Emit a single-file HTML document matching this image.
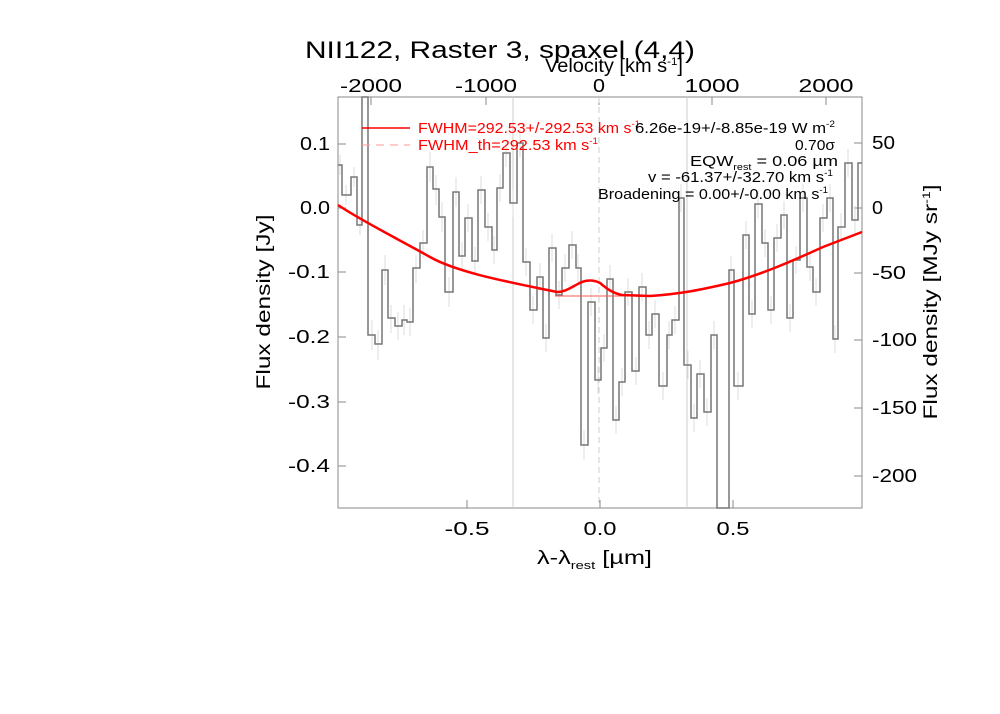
<!DOCTYPE html>
<html><head><meta charset="utf-8"><style>
body{margin:0;background:#fff;}
svg{display:block;font-family:"Liberation Sans",sans-serif;}
</style></head><body>
<svg width="1000" height="714" viewBox="0 0 1000 714" xmlns="http://www.w3.org/2000/svg">
<rect width="1000" height="714" fill="#fff"/>
<text x="305" y="58" font-size="24" fill="#000" textLength="390" lengthAdjust="spacingAndGlyphs">NII122, Raster 3, spaxel (4,4)</text>
<text x="545" y="72" font-size="19" fill="#000" textLength="138" lengthAdjust="spacingAndGlyphs">Velocity [km s<tspan font-size="11" dy="-7">-1</tspan><tspan dy="7">]</tspan></text>
<g font-size="18" fill="#000" text-anchor="middle" lengthAdjust="spacingAndGlyphs">
<text x="371" y="92" textLength="62" lengthAdjust="spacingAndGlyphs">-2000</text><text x="486" y="92" textLength="62" lengthAdjust="spacingAndGlyphs">-1000</text><text x="599" y="92" textLength="12" lengthAdjust="spacingAndGlyphs">0</text><text x="712" y="92" textLength="55" lengthAdjust="spacingAndGlyphs">1000</text><text x="826" y="92" textLength="55" lengthAdjust="spacingAndGlyphs">2000</text>
<text x="467" y="535" textLength="45" lengthAdjust="spacingAndGlyphs">-0.5</text><text x="600" y="535" textLength="33" lengthAdjust="spacingAndGlyphs">0.0</text><text x="733" y="535" textLength="33" lengthAdjust="spacingAndGlyphs">0.5</text>
</g>
<g font-size="18" fill="#000" text-anchor="end">
<text x="330" y="150" textLength="30" lengthAdjust="spacingAndGlyphs">0.1</text><text x="330" y="214" textLength="30" lengthAdjust="spacingAndGlyphs">0.0</text><text x="330" y="278" textLength="42" lengthAdjust="spacingAndGlyphs">-0.1</text><text x="330" y="343" textLength="42" lengthAdjust="spacingAndGlyphs">-0.2</text><text x="330" y="408" textLength="42" lengthAdjust="spacingAndGlyphs">-0.3</text><text x="330" y="472" textLength="42" lengthAdjust="spacingAndGlyphs">-0.4</text>
</g>
<g font-size="18" fill="#000" text-anchor="start">
<text x="872" y="149" textLength="23" lengthAdjust="spacingAndGlyphs">50</text><text x="872" y="214" textLength="11" lengthAdjust="spacingAndGlyphs">0</text><text x="872" y="279" textLength="34" lengthAdjust="spacingAndGlyphs">-50</text><text x="872" y="346" textLength="45" lengthAdjust="spacingAndGlyphs">-100</text><text x="872" y="414" textLength="45" lengthAdjust="spacingAndGlyphs">-150</text><text x="872" y="482" textLength="45" lengthAdjust="spacingAndGlyphs">-200</text>
</g>
<text x="537" y="564" font-size="19" textLength="115" lengthAdjust="spacingAndGlyphs">λ-λ<tspan font-size="11" dy="5">rest</tspan><tspan dy="-5"> [µm]</tspan></text>
<text transform="translate(270,302) rotate(-90)" font-size="19" text-anchor="middle" textLength="175" lengthAdjust="spacingAndGlyphs">Flux density [Jy]</text>
<text transform="translate(937,302) rotate(-90)" font-size="19" text-anchor="middle" textLength="235" lengthAdjust="spacingAndGlyphs">Flux density [MJy sr<tspan font-size="11" dy="-7">-1</tspan><tspan dy="7">]</tspan></text>
<rect x="338" y="97" width="524" height="411" fill="none" stroke="#888" stroke-width="1"/>
<g stroke="#888" stroke-width="1">
<path d="M338 144h8M338 208h8M338 272h8M338 337h8M338 402h8M338 466h8M862 143h-8M862 208h-8M862 273h-8M862 340h-8M862 408h-8M862 476h-8M467 508v-8M600 508v-8M733 508v-8M371 97v8M486 97v8M599 97v8M712 97v8M826 97v8"/>
</g>
<g stroke="#ccc" stroke-width="1">
<line x1="513" y1="97" x2="513" y2="508"/><line x1="687" y1="97" x2="687" y2="508"/>
<line x1="599" y1="97" x2="599" y2="508" stroke-dasharray="6,4"/>
</g>
<g stroke="#ddd" stroke-width="1">
<path d="M340 155v20M346 185v20M354 167v20M360 215v20M372 320v30M378 330v30M385 255v30M391 305v28M398 312v28M404 305v30M410 308v28M416 255v28M423 230v28M430 152v30M436 175v30M442 202v30M449 277v30M456 177v30M462 242v28M468 204v28M475 247v28M481 176v28M488 213v28M494 236v28M500 174v28M506 139v28M513 189v28M520 129v28M526 248v28M533 296v28M540 263v28M546 324v28M552 234v28M559 281v28M565 254v28M572 231v28M578 254v28M584 430v30M591 288v28M598 366v28M604 334v28M610 265v28M616 406v28M622 368v28M628 278v28M636 357v28M642 273v28M649 321v28M655 300v28M663 372v28M669 321v28M675 306v28M681 184v28M688 351v28M694 404v28M700 360v28M707 398v28M714 321v28M731 256v28M738 372v28M746 221v28M752 300v28M758 190v28M765 229v28M771 296v28M777 224v28M784 201v28M790 304v28M796 246v28M803 184v28M810 253v28M816 278v28M823 204v28M830 184v28M835 325v28M841 213v28M848 149v28M855 206v28"/>
</g>
<path fill="none" stroke="#777" stroke-width="1.5" d="M338 165H342V195H351V177H357V225H362V97H368V335H375V344H382V270H388V318H395V326H402V320H407V322H413V268H420V243H427V167H433V189H439V217H445V292H453V192H459V256H465V218H472V261H478V190H485V227H492V250H497V188H503V153H510V203H517V143H523V262H530V310H537V277H543V338H549V248H556V295H562V268H569V245H576V268H581V445H588V302H595V380H601V348H607V279H613V420H619V382H625V292H632V371H639V287H646V335H652V314H659V386H667V335H672V320H679V198H684V365H691V418H697V374H704V412H711V335H717V508H723V508H729V270H734V386H743V235H749V314H755V204H762V243H768V310H774V238H781V215H787V318H793V260H800V198H807V267H813V292H820V218H827V198H833V339H838V227H845V163H852V220H858V163H862"/>
<path d="M555 296H645" stroke="#f55" stroke-width="1" fill="none"/>
<path fill="none" stroke="#f00" stroke-width="2.5" d="M338 205 C360 220, 400 240, 430 257 S 520 284, 557 292 C565 292, 570 288, 576 285 C584 280, 592 279, 600 283 C606 288, 612 293, 622 295 L650 296 C680 294, 700 290, 730 283 C760 275, 790 262, 823 247 L862 232"/>
<line x1="362" y1="128" x2="410" y2="128" stroke="#f00" stroke-width="1.5"/>
<line x1="362" y1="145" x2="410" y2="145" stroke="#f99" stroke-width="1" stroke-dasharray="8,6"/>
<text x="418" y="133" font-size="15" fill="#f00" textLength="222" lengthAdjust="spacingAndGlyphs">FWHM=292.53+/-292.53 km s<tspan font-size="9" dy="-6">-1</tspan></text>
<text x="418" y="150" font-size="15" fill="#f00" textLength="180" lengthAdjust="spacingAndGlyphs">FWHM_th=292.53 km s<tspan font-size="9" dy="-6">-1</tspan></text>
<g font-size="15" fill="#000">
<text x="635" y="133" textLength="200" lengthAdjust="spacingAndGlyphs">6.26e-19+/-8.85e-19 W m<tspan font-size="9" dy="-6">-2</tspan></text>
<text x="795" y="150" textLength="40" lengthAdjust="spacingAndGlyphs">0.70σ</text>
<text x="690" y="166" textLength="148" lengthAdjust="spacingAndGlyphs">EQW<tspan font-size="9" dy="4">rest</tspan><tspan dy="-4"> = 0.06 µm</tspan></text>
<text x="648" y="182" textLength="185" lengthAdjust="spacingAndGlyphs">v = -61.37+/-32.70 km s<tspan font-size="9" dy="-6">-1</tspan></text>
<text x="598" y="199" textLength="230" lengthAdjust="spacingAndGlyphs">Broadening = 0.00+/-0.00 km s<tspan font-size="9" dy="-6">-1</tspan></text>
</g>
</svg>
</body></html>
